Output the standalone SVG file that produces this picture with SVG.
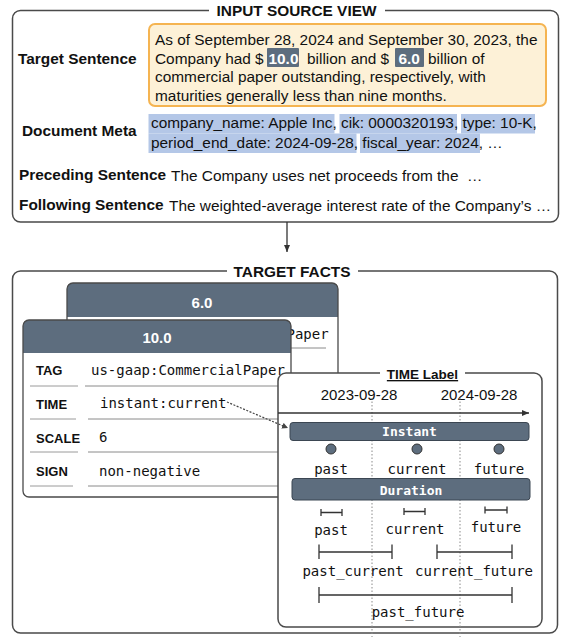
<svg xmlns="http://www.w3.org/2000/svg" width="561" height="637" viewBox="0 0 561 637">
<defs>
<style>
.sans{font-family:"Liberation Sans",Arial,sans-serif}
.mono{font-family:"DejaVu Sans Mono","Liberation Mono",monospace}
.box{fill:#fff;stroke:#4a4a4a;stroke-width:1.5}
.lbl{font-family:"Liberation Sans",Arial,sans-serif;font-weight:bold;font-size:15.4px;fill:#111}
.txt{font-family:"Liberation Sans",Arial,sans-serif;font-size:15.4px;fill:#111}
.hl{fill:#b4c7e7}
.dark{fill:#5d6d7e}
.row{font-family:"Liberation Sans",Arial,sans-serif;font-weight:bold;font-size:13px;fill:#111}
.val{font-family:"DejaVu Sans Mono","Liberation Mono",monospace;font-size:14px;fill:#111}
.sepL{stroke:#9a9a9a;stroke-width:1}
.sepV{stroke:#8a8a8a;stroke-width:1}
.dot{stroke:#8a8a8a;stroke-width:1;stroke-dasharray:1.5 2}
.brk{stroke:#333;stroke-width:1.3;fill:none}
.tl{font-family:"DejaVu Sans Mono","Liberation Mono",monospace;font-size:14px;fill:#111;text-anchor:middle}
.bar{fill:#5d6d7e;stroke:#3b4652;stroke-width:1}
.bartxt{font-family:"DejaVu Sans Mono","Liberation Mono",monospace;font-weight:bold;font-size:13px;fill:#fff;text-anchor:middle}
</style>
<marker id="ah" markerWidth="8" markerHeight="8" refX="7" refY="4" orient="auto" markerUnits="userSpaceOnUse">
<path d="M0,1 L7,4 L0,7 Z" fill="#333"/>
</marker>
<marker id="ah2" markerWidth="7" markerHeight="7" refX="6" refY="3.5" orient="auto" markerUnits="userSpaceOnUse">
<path d="M0,0.5 L6,3.5 L0,6.5 Z" fill="#444"/>
</marker>
</defs>

<g id="input-source-view">
<rect class="box" x="12.5" y="10.5" width="546" height="211.5" rx="8"/>
<rect x="209" y="2" width="176" height="16" fill="#fff"/>
<text class="lbl" x="296.5" y="16" text-anchor="middle">INPUT SOURCE VIEW</text>

<text class="lbl" x="18" y="63.5">Target Sentence</text>
<rect x="149" y="24" width="397" height="82" rx="6" fill="#fdf1d7" stroke="#f5b451" stroke-width="2"/>
<rect class="dark" x="267" y="48" width="32" height="19" rx="1"/>
<rect class="dark" x="395" y="48" width="29" height="19" rx="1"/>
<text class="txt" x="155" y="45">As of September 28, 2024 and September 30, 2023, the</text>
<text class="txt" y="63.7"><tspan x="155">Company had $</tspan><tspan x="268.5" font-weight="bold" fill="#fff">10.0</tspan><tspan x="307">billion and $</tspan><tspan x="398.5" font-weight="bold" fill="#fff">6.0</tspan><tspan x="428">billion of</tspan></text>
<text class="txt" x="155" y="82.4">commercial paper outstanding, respectively, with</text>
<text class="txt" x="155" y="101">maturities generally less than nine months.</text>

<text class="lbl" x="22" y="136">Document Meta</text>
<rect class="hl" x="148.5" y="114" width="186" height="19.5"/>
<rect class="hl" x="339.5" y="114" width="117.5" height="19.5"/>
<rect class="hl" x="461" y="114" width="74" height="19.5"/>
<rect class="hl" x="148.5" y="133.5" width="208" height="19.5"/>
<rect class="hl" x="360" y="133.5" width="120" height="19.5"/>
<text class="txt" x="151" y="127.5">company_name: Apple Inc, cik: 0000320193, type: 10-K,</text>
<text class="txt" x="151" y="147.5">period_end_date: 2024-09-28, fiscal_year: 2024, …</text>

<text class="lbl" x="19" y="179.5">Preceding Sentence</text>
<text class="txt" x="171" y="181" xml:space="preserve">The Company uses net proceeds from the  …</text>
<text class="lbl" x="19" y="209.5">Following Sentence</text>
<text class="txt" x="169" y="210.5">The weighted-average interest rate of the Company’s …</text>
</g>

<g id="target-facts">
<rect class="box" x="12.5" y="271" width="545" height="362" rx="8"/>
<rect x="227" y="262" width="131" height="18" fill="#fff"/>
<text class="lbl" x="292" y="277" text-anchor="middle" font-size="15px">TARGET FACTS</text>
</g>

<g id="fact-6">
<rect x="67" y="283" width="271" height="177" rx="6" fill="#fff"/>
<path class="dark" d="M67,317 V289 Q67,283 73,283 H332 Q338,283 338,289 V317 Z"/>
<rect x="67" y="283" width="271" height="177" rx="6" fill="none" stroke="#4a4a4a" stroke-width="1.3"/>
<text x="202" y="307.5" text-anchor="middle" class="sans" font-weight="bold" font-size="15px" fill="#fff">6.0</text>
<text class="val" x="286.5" y="339">Paper</text>
<line class="sepV" x1="291" y1="348" x2="326" y2="348"/>
</g>

<g id="fact-10">
<rect x="23" y="320" width="268" height="177" rx="6" fill="#fff"/>
<path class="dark" d="M23,353 V326 Q23,320 29,320 H285 Q291,320 291,326 V353 Z"/>
<rect x="23" y="320" width="268" height="177" rx="6" fill="none" stroke="#4a4a4a" stroke-width="1.3"/>
<text x="157" y="342.5" text-anchor="middle" class="sans" font-weight="bold" font-size="15px" fill="#fff">10.0</text>
<text class="row" x="36" y="375">TAG</text>
<text class="val" x="91" y="375">us-gaap:CommercialPaper</text>
<line class="sepL" x1="30" y1="386" x2="78" y2="386"/>
<line class="sepV" x1="85" y1="386" x2="291" y2="386"/>
<text class="row" x="36" y="409">TIME</text>
<text class="val" x="100" y="408">instant:current</text>
<line class="sepL" x1="30" y1="419" x2="76" y2="419"/>
<line class="sepV" x1="88" y1="419" x2="291" y2="419"/>
<text class="row" x="36" y="443">SCALE</text>
<text class="val" x="99" y="442">6</text>
<line class="sepL" x1="30" y1="452" x2="78" y2="452"/>
<line class="sepV" x1="88" y1="452" x2="291" y2="452"/>
<text class="row" x="36" y="476">SIGN</text>
<text class="val" x="99" y="476">non-negative</text>
<line class="sepL" x1="30" y1="486" x2="73" y2="486"/>
<line class="sepV" x1="88" y1="486" x2="291" y2="486"/>
</g>

<g id="time-label">
<rect class="box" x="278" y="373" width="264" height="254" rx="8" stroke-width="1.3"/>
<rect x="380" y="366" width="85" height="16" fill="#fff"/>
<text x="422.5" y="379" text-anchor="middle" class="sans" font-weight="bold" font-size="13.5px" fill="#111" text-decoration="underline">TIME Label</text>
<text x="359" y="400" text-anchor="middle" class="sans" font-size="15px" fill="#111">2023-09-28</text>
<text x="479" y="400" text-anchor="middle" class="sans" font-size="15px" fill="#111">2024-09-28</text>
<line class="dot" x1="372" y1="398" x2="372" y2="637"/>
<line class="dot" x1="460" y1="398" x2="460" y2="637"/>
<line x1="278" y1="413" x2="529" y2="413" stroke="#333" stroke-width="1.5" marker-end="url(#ah)"/>

<rect class="bar" x="290" y="422.5" width="239" height="18" rx="3"/>
<text class="bartxt" x="409.5" y="436">Instant</text>
<circle cx="331" cy="449" r="5" fill="#5d6d7e" stroke="#333" stroke-width="1"/>
<circle cx="417" cy="449" r="5" fill="#5d6d7e" stroke="#333" stroke-width="1"/>
<circle cx="499" cy="449" r="5" fill="#5d6d7e" stroke="#333" stroke-width="1"/>
<text class="tl" x="331" y="474">past</text>
<text class="tl" x="417" y="474">current</text>
<text class="tl" x="499" y="474">future</text>

<rect class="bar" x="292" y="478.5" width="238" height="21.5" rx="3"/>
<text class="bartxt" x="411" y="494.5">Duration</text>

<path class="brk" d="M321,509 V516 M321,512.5 H342 M342,509 V516"/>
<path class="brk" d="M404,508 V515 M404,511.5 H425 M425,508 V515"/>
<path class="brk" d="M485,506.5 V513.5 M485,510 H507 M507,506.5 V513.5"/>
<text class="tl" x="331" y="535">past</text>
<text class="tl" x="415" y="534">current</text>
<text class="tl" x="496" y="532">future</text>

<path class="brk" d="M319,544.5 V559 M319,552 H392 M392,544.5 V559"/>
<path class="brk" d="M437,544.5 V559 M437,552 H512 M512,544.5 V559"/>
<text class="tl" x="353" y="576">past_current</text>
<text class="tl" x="474" y="576">current_future</text>

<path class="brk" d="M319,587 V603 M319,595 H512 M512,587 V603"/>
<text class="tl" x="418" y="617">past_future</text>
</g>

<g id="connectors">
<line x1="287" y1="222" x2="287" y2="252" stroke="#333" stroke-width="1.3" marker-end="url(#ah)"/>
<path d="M227,402 L288,428" fill="none" stroke="#444" stroke-width="1.2" stroke-dasharray="2 1.5" marker-end="url(#ah2)"/>
</g>
</svg>
